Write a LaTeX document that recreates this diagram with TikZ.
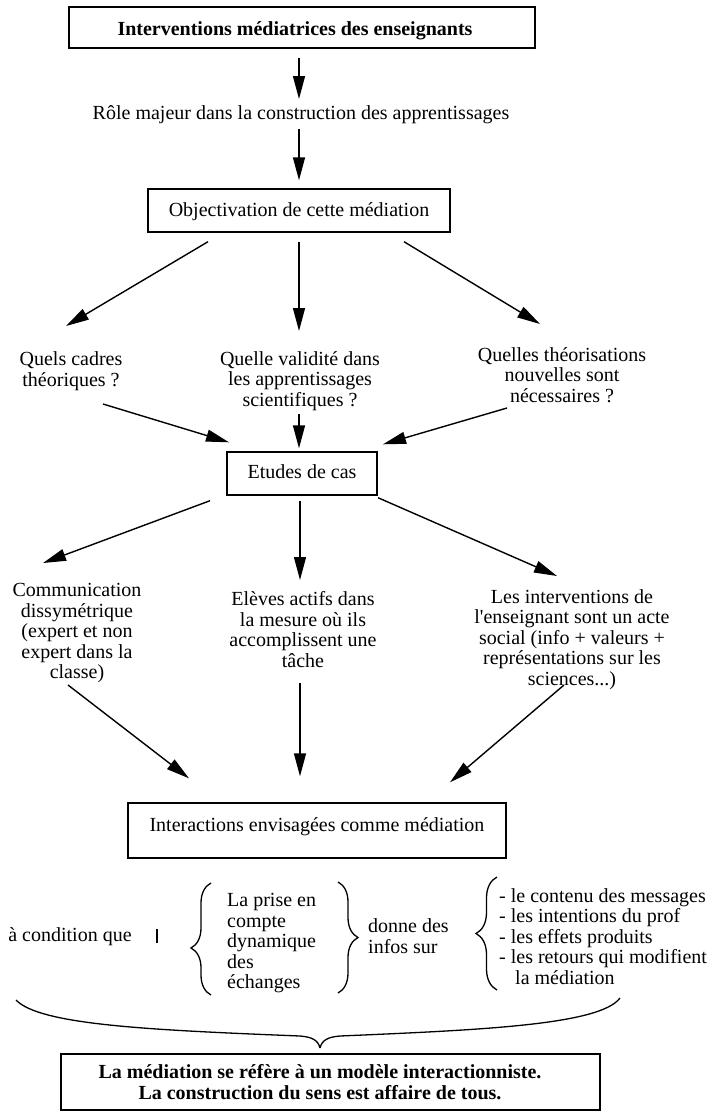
\documentclass[tikz,border=0pt]{standalone}
\usepackage{fontspec}
\setmainfont{Liberation Serif}
\usetikzlibrary{arrows.meta,calc,decorations.pathreplacing}
\begin{document}
\begin{tikzpicture}[x=1pt,y=-1pt,
  every node/.style={font=\fontsize{20}{20.5}\selectfont},
  lbl/.style={inner sep=0pt, align=center},
  one/.style={inner sep=0pt, text height=13pt, text depth=4pt},
  box/.style={draw, line width=1.4pt, inner sep=0pt},
  bold/.style={font=\fontsize{20}{20.5}\selectfont\bfseries},
  arr/.style={-{Triangle[length=23pt,width=12pt]}, line width=1.4pt},
  brc/.style={decorate, line width=1.3pt},
  ]
\fill[white] (0,0) rectangle (710,1112);
\useasboundingbox (0,0) rectangle (710,1112);

% nodes
\node[box, bold, minimum width=466pt, minimum height=41pt, text height=15pt, text depth=0pt] (top) at (302,27.5) {Interventions médiatrices des enseignants\hspace*{14pt}};
\node[one] (role) at (301,115) {Rôle majeur dans la construction des apprentissages};
\node[box, minimum width=302pt, minimum height=43pt, text height=13pt, text depth=2pt] (obj) at (299,210.5) {Objectivation de cette médiation};
\node[lbl] (q1) at (71,371) {Quels cadres\\théoriques ?};
\node[lbl] (q2) at (300,381) {Quelle validité dans\\les apprentissages\\scientifiques ?};
\node[lbl] (q3) at (562,375) {Quelles théorisations\\nouvelles sont\\nécessaires ?};
\node[box, minimum width=150pt, minimum height=43pt, text height=13pt, text depth=3pt] (etu) at (302,473.5) {Etudes de cas};
\node[lbl] (c1) at (77,633) {Communication\\dissymétrique\\(expert et non\\expert dans la\\classe)};
\node[lbl] (c2) at (303,629.5) {Elèves actifs dans\\la mesure où ils\\accomplissent une\\tâche};
\node[lbl] (c3) at (572,639.5) {Les interventions de\\l\textquotesingle enseignant sont un acte\\social (info + valeurs +\\représentations sur les\\sciences...)};
\node[box, minimum width=378pt, minimum height=55pt, text height=10pt, text depth=8pt] (inter) at (317,830.5) {Interactions envisagées comme médiation};
\node[one] (cond) at (70,937) {à condition que};
\node[lbl, align=left, anchor=west] (prise) at (227,943.5) {La prise en\\compte\\dynamique\\des\\échanges};
\node[lbl, align=left, anchor=west] (donne) at (368,936) {donne des\\infos sur};
\node[lbl, align=left, anchor=west] (list) at (499,936.5) {- le contenu des messages\\- les intentions du prof\\- les effets produits\\- les retours qui modifient\\\hspace*{16pt}la médiation};
\node[box, bold, align=center, minimum width=539pt, minimum height=56pt] (bot) at (330.5,1082) {La médiation se réfère à un modèle interactionniste.\hspace*{21pt}\\La construction du sens est affaire de tous.\hspace*{21pt}};

% arrows
\draw[arr] ($(top.south)+(-3,9)$) -- ($(role)+(-2,-16)$);
\draw[arr] ($(role)+(-2,14)$) -- ($(obj.north)+(0,-8)$);
\draw[arr] ($(obj.south)+(-91,9)$) -- ($(q1)+(-5,-45)$);
\draw[arr] ($(obj.south)+(0,9)$) -- ($(q2)+(-1,-50)$);
\draw[arr] ($(obj.south)+(105,9)$) -- ($(q3)+(-22,-51)$);
\draw[arr] ($(q1)+(32,33)$) -- ($(etu.north)+(-73,-9)$);
\draw[arr] ($(q2)+(-1,33)$) -- ($(etu.north)+(-3,-3)$);
\draw[arr] ($(q3)+(-55,33)$) -- ($(etu.north)+(81,-7)$);
\draw[arr] ($(etu.south)+(-92,5)$) -- ($(c1)+(-34,-70)$);
\draw[arr] ($(etu.south)+(-2,5)$) -- ($(c2)+(-3,-49.5)$);
\draw[arr] ($(etu.south)+(76,2)$) -- ($(c3)+(-15,-63.5)$);
\draw[arr] ($(c1)+(-9,52)$) -- ($(inter.north)+(-128,-24)$);
\draw[arr] ($(c2)+(-3,53.5)$) -- ($(inter.north)+(-17,-26)$);
\draw[arr] ($(c3)+(-8,45.5)$) -- ($(inter.north)+(133,-20)$);

% bar
\draw[line width=1.8pt] (157,929) -- (157,943);

% braces
\draw[brc, decoration={brace, amplitude=20pt, aspect=0.42}] (211,995) -- (211,883);
\draw[brc, decoration={brace, amplitude=20pt, aspect=0.5}] (338,882) -- (338,993);
\draw[brc, decoration={brace, amplitude=21pt, aspect=0.5}] (497,990) -- (497,877);

% under brace
\draw[line width=1.3pt] (16,1000) .. controls (40,1025) and (150,1030) .. (300,1036)
  .. controls (312,1037) and (318,1040) .. (320,1048);
\draw[line width=1.3pt] (620,998) .. controls (600,1025) and (480,1030) .. (340,1036)
  .. controls (328,1037) and (322,1040) .. (320,1048);
\end{tikzpicture}
\end{document}
